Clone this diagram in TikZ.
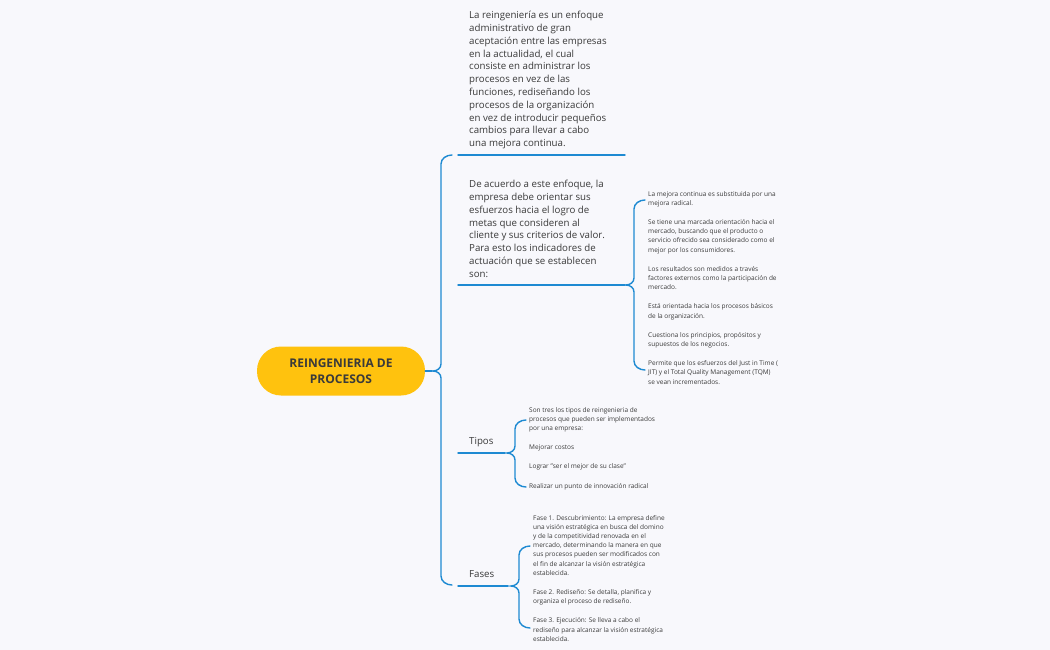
\documentclass[tikz,border=0pt]{standalone}
\usepackage{fontspec}
\setmainfont{Open Sans}
\definecolor{ln}{HTML}{1E8AD2}
\definecolor{tx}{HTML}{3A3A3A}
\definecolor{rootc}{HTML}{FFC20E}
\definecolor{bg}{HTML}{F8F8FC}
\tikzset{
 br/.style={draw=ln,line width=1.4pt,line cap=round},
 big/.style={anchor=north west,inner sep=0,align=left,text=tx,font=\fontsize{9.7}{12.8}\selectfont},
 small/.style={anchor=north west,inner sep=0,align=left,text=tx,font=\fontsize{6.5}{9.2}\selectfont},
}
\newcommand{\brc}[4]{% x, top, bottom, mid
 \draw[br] (#1+11,#2) to[out=180,in=90] (#1,#2+9) -- (#1,#4-7) to[out=-90,in=0] (#1-8,#4) to[out=0,in=90] (#1,#4+7) -- (#1,#3-9) to[out=-90,in=180] (#1+11,#3);}
\begin{document}
\begin{tikzpicture}[x=1pt,y=-1pt]
\fill[bg] (0,0) rectangle (1050,650);
\useasboundingbox (0,0) rectangle (1050,650);
\node[fill=rootc,rounded corners=24pt,minimum width=168pt,minimum height=49pt,text=tx,align=center,font=\bfseries\fontsize{12}{15.5}\selectfont] (root) at (341,371) {REINGENIERIA DE\\PROCESOS};
\coordinate (m) at (432,371);
\draw[br] (root.east) -- (m);
\brc{441}{155}{585}{371}
\node[big] (t1) at (469,11) {La reingeniería es un enfoque\\administrativo de gran\\aceptación entre las empresas\\en la actualidad, el cual\\consiste en administrar los\\procesos en vez de las\\funciones, rediseñando los\\procesos de la organización\\en vez de introducir pequeños\\cambios para llevar a cabo\\una mejora continua.};
\draw[br] (458,155) -- (625,155);
\node[big] (t2) at (469,180) {De acuerdo a este enfoque, la\\empresa debe orientar sus\\esfuerzos hacia el logro de\\metas que consideren al\\cliente y sus criterios de valor.\\Para esto los indicadores de\\actuación que se establecen\\son:};
\draw[br] (458,285) -- (625,285);
\node[big] (tp) at (469,437) {Tipos};
\draw[br] (458,453) -- (505,453);
\node[big] (fs) at (469,570) {Fases};
\draw[br] (458,586) -- (508,586);
\brc{634}{200}{370}{285}
\node[small] (s1) at (648,191) {La mejora continua es substituida por una\\mejora radical.\\[10pt]Se tiene una marcada orientación hacia el\\mercado, buscando que el producto o\\servicio ofrecido sea considerado como el\\mejor por los consumidores.\\[10pt]Los resultados son medidos a través\\factores externos como la participación de\\mercado.\\[10pt]Está orientada hacia los procesos básicos\\de la organización.\\[10pt]Cuestiona los principios, propósitos y\\supuestos de los negocios.\\[10pt]Permite que los esfuerzos del Just in Time (\\JIT) y el Total Quality Management (TQM)\\se vean incrementados.};
\brc{515}{420}{487}{453}
\node[small] (s2) at (529,407) {Son tres los tipos de reingenieria de\\procesos que pueden ser implementados\\por una empresa:\\[10pt]Mejorar costos\\[10pt]Lograr "ser el mejor de su clase"\\[10pt]Realizar un punto de innovación radical};
\brc{519}{546}{628}{586}
\node[small] (s3) at (533,515) {Fase 1. Descubrimiento: La empresa define\\una visión estratégica en busca del domino\\y de la competitividad renovada en el\\mercado, determinando la manera en que\\sus procesos pueden ser modificados con\\el fin de alcanzar la visión estratégica\\establecida.\\[10pt]Fase 2. Rediseño: Se detalla, planifica y\\organiza el proceso de rediseño.\\[10pt]Fase 3. Ejecución: Se lleva a cabo el\\rediseño para alcanzar la visión estratégica\\establecida.};
\end{tikzpicture}
\end{document}
